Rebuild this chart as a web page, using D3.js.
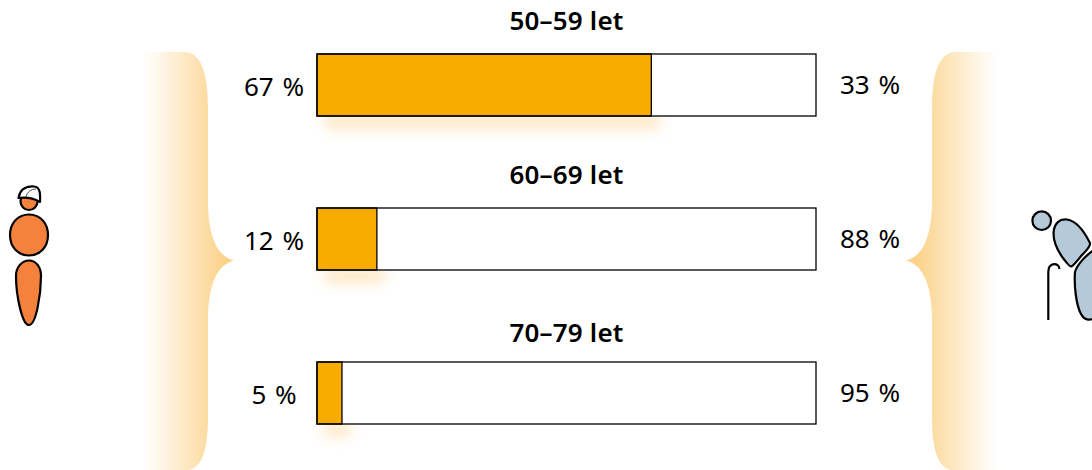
<!DOCTYPE html>
<html>
<head>
<meta charset="utf-8">
<style>
  html, body { margin: 0; padding: 0; background: #fff; overflow: hidden; }
  text { font-family: "Noto Sans", sans-serif; fill: #000; }
</style>
<script src="https://d3js.org/d3.v7.min.js"></script>
</head>
<body>
<div id="chart"></div>
<script>
const categories = ["50–59 let", "60–69 let", "70–79 let"];
const youngShare = [67, 12, 5];
const oldShare = [33, 88, 95];
const domainMax = 100;
// title baselines are not evenly spaced in the original
const titleBaselines = [30, 184, 342];

const svg = d3.select("#chart")
  .append("svg")
  .attr("width", 1092)
  .attr("height", 470)
  .style("display", "block");

const defs = svg.append("defs");

// fading fill of the two braces
function braceGradient(id, x1, x2) {
  const g = defs.append("linearGradient")
    .attr("id", id)
    .attr("gradientUnits", "userSpaceOnUse")
    .attr("x1", x1).attr("x2", x2)
    .attr("y1", 0).attr("y2", 0);
  g.append("stop").attr("offset", 0).attr("stop-color", "#fcd28a").attr("stop-opacity", 0);
  g.append("stop").attr("offset", 0.3).attr("stop-color", "#fcd28a").attr("stop-opacity", 0.28);
  g.append("stop").attr("offset", 1).attr("stop-color", "#fcd28a").attr("stop-opacity", 1);
}
braceGradient("braceLeft", 143, 224);
braceGradient("braceRight", 997, 916);

defs.append("filter").attr("id", "soft")
  .attr("filterUnits", "userSpaceOnUse")
  .attr("x", 280).attr("y", 90).attr("width", 420).attr("height", 360)
  .append("feGaussianBlur").attr("stdDeviation", 7);

// scales
const x = d3.scaleLinear().domain([0, domainMax]).range([317, 816]);
const y = d3.scaleBand().domain(categories).range([54, 424]).paddingInner(92 / 62 / (1 + 92 / 62));

// braces
svg.append("path")
  .attr("fill", "url(#braceLeft)")
  .attr("d", "M143,52 L186,52 C203,54 208,78 208,110 L208,205 C209,235 216,256 234,260.5 C216,265 209,286 208,316 L208,415 C208,448 203,468 188,470 L143,470 Z");
svg.append("path")
  .attr("fill", "url(#braceRight)")
  .attr("d", "M997,52 L954,52 C937,54 932,78 932,110 L932,205 C931,235 924,256 906,260.5 C924,265 931,286 932,316 L932,415 C932,448 937,468 952,470 L997,470 Z");

// soft shadow under the filled parts
svg.append("g").selectAll("rect")
  .data(categories)
  .enter()
  .append("rect")
    .attr("x", x(0) + 8)
    .attr("y", d => y(d) + y.bandwidth() - 1)
    .attr("width", (d, i) => x(youngShare[i]) - x(0))
    .attr("height", 13)
    .attr("fill", "#fbc978")
    .attr("opacity", 0.5)
    .attr("filter", "url(#soft)");

// bars
const rows = svg.append("g").selectAll("g")
  .data(categories)
  .enter()
  .append("g");

rows.append("rect")
  .attr("x", x(0))
  .attr("y", d => y(d))
  .attr("width", x(domainMax) - x(0))
  .attr("height", y.bandwidth())
  .attr("fill", "#fff");

rows.append("rect")
  .attr("x", x(0))
  .attr("y", d => y(d))
  .attr("width", (d, i) => x(youngShare[i]) - x(0))
  .attr("height", y.bandwidth())
  .attr("fill", "#f8ac00")
  .attr("stroke", "#000")
  .attr("stroke-width", 1.3);

rows.append("rect")
  .attr("x", x(0))
  .attr("y", d => y(d))
  .attr("width", x(domainMax) - x(0))
  .attr("height", y.bandwidth())
  .attr("fill", "none")
  .attr("stroke", "#000")
  .attr("stroke-width", 1.3);

// labels
rows.append("text")
  .attr("x", (x(0) + x(domainMax)) / 2)
  .attr("y", (d, i) => titleBaselines[i])
  .attr("text-anchor", "middle")
  .style("font-size", "26px")
  .style("font-weight", 600)
  .style("letter-spacing", "0.2px")
  .text(d => d);

rows.append("text")
  .attr("x", 274)
  .attr("y", d => y(d) + 42)
  .attr("text-anchor", "middle")
  .style("font-size", "26px")
  .style("word-spacing", "2px")
  .text((d, i) => youngShare[i] + " %");

rows.append("text")
  .attr("x", 870)
  .attr("y", d => y(d) + 40)
  .attr("text-anchor", "middle")
  .style("font-size", "26px")
  .style("word-spacing", "2px")
  .text((d, i) => oldShare[i] + " %");

// young figure
const young = svg.append("g")
  .attr("stroke", "#000")
  .attr("stroke-width", 2.2)
  .attr("fill", "#f4823c")
  .attr("stroke-linejoin", "round");
young.append("circle").attr("cx", 29).attr("cy", 201.5).attr("r", 8.5);
young.append("path").attr("fill", "#fff")
  .attr("d", "M18.5,198 C20,188 28,186 34,186.5 C40,187 40.5,193 40,202 C33,198 26,197 18.5,198 Z");
young.append("path").attr("fill", "none").attr("stroke-width", 0.7)
  .attr("d", "M26,197 C27,192 31,189 36,189");
young.append("path")
  .attr("d", "M29,214.5 C41,214.5 48,224 48,235 C48,247 40,255.5 29,255.5 C18,255.5 10,247 10,235 C10,224 17,214.5 29,214.5 Z");
young.append("path")
  .attr("d", "M29,260.5 C36,260.5 41,267 41,276 C41,295 36,325 29,325 C22,325 16,295 16,276 C16,267 22,260.5 29,260.5 Z");

// old figure
const old = svg.append("g")
  .attr("stroke", "#000")
  .attr("stroke-width", 2.2)
  .attr("fill", "#b5cad8")
  .attr("stroke-linejoin", "round");
old.append("circle").attr("cx", 1041.7).attr("cy", 220.7).attr("r", 9.3);
old.append("path")
  .attr("d", "M1053.5,233 C1054,223 1060,218.5 1067,219.5 C1078,221 1086,235 1090,243 C1090.5,245 1087,250 1082,255 C1077,261 1074,265 1071.5,266.5 C1069.5,267 1067,263 1063,258 C1057,250 1053.5,243 1053.5,233 Z");
old.append("path")
  .attr("d", "M1094,250 C1085,256 1077,265 1075,272 C1074,285 1076,305 1081,314 C1084,320 1090,321 1094,318");
old.append("path")
  .attr("fill", "none")
  .attr("d", "M1048.3,320 L1048.3,272 C1048.3,262 1059,262 1059.5,269");
</script>
</body>
</html>
